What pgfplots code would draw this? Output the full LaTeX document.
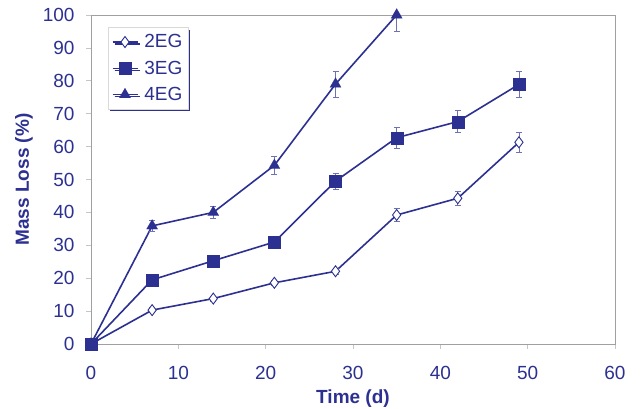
\documentclass[border=0pt]{standalone}
\usepackage{pgfplots}
\pgfplotsset{compat=1.18}
\usepackage{pgfplotstable}
\usepackage{fontspec}
\setmainfont{Liberation Sans}
\usetikzlibrary{shadows}
\definecolor{mblue}{RGB}{44,48,145}
\definecolor{eblue}{RGB}{110,114,180}
\definecolor{fgray}{RGB}{160,160,160}

\pgfplotstableread{
x y ep em
0 0 0 0
7 10.3 0.8 0.8
14 13.8 0.8 0.8
21 18.6 0.8 0.8
28 22.1 1.0 1.0
35 39.2 1.9 1.9
42 44.3 2.2 2.2
49 61.3 3.1 3.1
}\twoEG
\pgfplotstableread{
x y ep em
0 0 0 0
7 19.5 1.0 1.0
14 25.3 1.0 1.0
21 31.0 1.0 1.0
28 49.5 2.5 2.5
35 62.7 3.2 3.2
42 67.6 3.3 3.3
49 78.9 4.0 4.0
}\threeEG
\pgfplotstableread{
x y ep em
0 0 0 0
7 35.9 1.6 1.6
14 40.0 1.9 1.9
21 54.3 2.7 2.7
28 79.0 4.0 4.0
35 100 0 5.0
}\fourEG

\begin{document}
\begin{tikzpicture}
\useasboundingbox (-91pt,-65pt) rectangle (552pt,344pt);
\begin{axis}[
  at={(0,0)}, anchor=south west,
  scale only axis,
  width=524pt, height=329pt,
  xmin=0, xmax=60, ymin=0, ymax=100,
  xtick={0,10,...,60}, ytick={0,10,...,100},
  /pgf/number format/assume math mode=true,
  axis line style={fgray, line width=0.8pt},
  tick style={fgray!60, line width=0.6pt},
  tick align=outside,
  major tick length=5pt,
  xtick pos=bottom, ytick pos=left,
  tick label style={font=\fontsize{19}{22}\selectfont, text=mblue},
  xticklabel style={yshift=-14pt},
  yticklabel style={xshift=-8pt},
  xlabel={\textbf{Time (d)}},
  ylabel={\textbf{Mass Loss (\%)}},
  label style={font=\fontsize{19}{22}\selectfont, text=mblue},
  xlabel style={yshift=-3pt},
  ylabel style={yshift=3pt},
  clip=false,
  legend cell align=left,
  legend style={at={(rel axis cs:0.0315,0.962)}, anchor=north west,
    fill=white, draw=fgray!40, line width=0.4pt,
    general shadow={fill=mblue, shadow xshift=2pt, shadow yshift=-2pt},
    font=\fontsize{19}{22}\selectfont, text=mblue,
    row sep=7.5pt, column sep=4pt, inner xsep=4pt, inner ysep=5pt},
  legend image code/.code={
    \draw[#1, mark indices={2}] plot coordinates {(0pt,0pt) (12.5pt,0pt) (25pt,0pt)};
  },
]
\addplot[mblue, line width=1.6pt, mark=diamond*, mark size=5.5pt,
  mark options={fill=white, line width=0.9pt, solid},
  error bars/.cd, y dir=both, y explicit,
  error bar style={eblue, line width=0.8pt},
  error mark options={eblue, rotate=90, mark size=3pt, line width=0.8pt}]
  table[x=x, y=y, y error plus=ep, y error minus=em] {\twoEG};
\addlegendentry{2EG}
\addplot[mblue, line width=1.6pt, mark=square*, mark size=6pt,
  mark options={fill=mblue, line width=0.1pt, solid},
  error bars/.cd, y dir=both, y explicit,
  error bar style={eblue, line width=0.8pt},
  error mark options={eblue, rotate=90, mark size=3pt, line width=0.8pt}]
  table[x=x, y=y, y error plus=ep, y error minus=em] {\threeEG};
\addlegendentry{3EG}
\addplot[mblue, line width=1.6pt, mark=triangle*, mark size=6.5pt,
  mark options={fill=mblue, line width=0.1pt, solid},
  error bars/.cd, y dir=both, y explicit,
  error bar style={eblue, line width=0.8pt},
  error mark options={eblue, rotate=90, mark size=3pt, line width=0.8pt}]
  table[x=x, y=y, y error plus=ep, y error minus=em] {\fourEG};
\addlegendentry{4EG}
\end{axis}
\end{tikzpicture}
\end{document}
